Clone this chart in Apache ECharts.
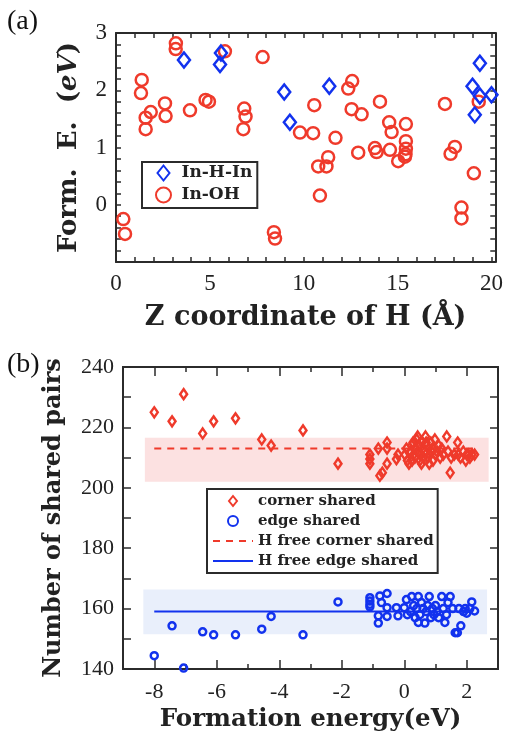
<!DOCTYPE html>
<html lang="en">
<head>
    <meta charset="UTF-8">
    <title>Formation energy / shared pairs</title>
    <script src="https://cdn.jsdelivr.net/npm/echarts@6/dist/echarts.min.js"></script>
    <style>
        html, body { margin: 0; padding: 0; background: #fff; }
        #main { width: 506px; height: 733px; }
    </style>
</head>
<body>
<div id="main"></div>
<script>
    // (a) Z coordinate of H vs formation energy
    var inHInZ = [3.62, 5.54, 5.59, 8.96, 9.26, 11.36, 18.99, 19.11, 19.38, 19.38, 20.0];
    var inHInE = [2.53, 2.45, 2.65, 1.97, 1.44, 2.07, 2.07, 1.57, 2.47, 1.90, 1.92];

    var inOHZ = [0.39, 0.48, 1.37, 1.33, 1.58, 1.58, 1.85, 2.61, 2.64, 3.19, 3.18, 3.94, 4.77, 4.95,
        5.80, 6.83, 6.90, 6.78, 7.81, 8.41, 8.47, 9.80, 10.56, 10.50, 10.77, 10.86, 11.21, 11.30,
        11.69, 12.37, 12.58, 12.55, 13.08, 12.90, 13.79, 13.88, 14.06, 14.55, 14.68, 14.59, 15.03,
        15.44, 15.44, 15.44, 15.39, 15.42, 17.52, 17.82, 18.05, 18.40, 18.40, 19.06, 19.32];
    var inOHE = [-0.25, -0.51, 2.18, 1.95, 1.52, 1.32, 1.62, 1.77, 1.55, 2.82, 2.72, 1.65, 1.83, 1.80,
        2.68, 1.68, 1.54, 1.32, 2.58, -0.48, -0.59, 1.26, 1.74, 1.25, 0.67, 0.16, 0.67, 0.83,
        1.17, 2.03, 2.16, 1.67, 1.58, 0.91, 0.99, 0.92, 1.80, 1.44, 1.27, 0.96, 0.76,
        1.41, 1.11, 0.98, 0.84, 0.88, 1.76, 0.89, 1.01, -0.05, -0.24, 0.55, 1.80];

    // (b) formation energy vs number of shared pairs
    var cornerE = [-8, -7.43, -7.06, -6.45, -6.1, -5.4, -4.56, -4.26, -3.24, -2.12,
        -1.1, -1.1, -1.1, -0.83, -0.55, -0.55, -0.55, -0.78, -0.7,
        -0.25, -0.2, 0.02, 0.07, 0.1, 0.15, 0.2, 0.24, 0.25, 0.28, 0.3, 0.34, 0.35, 0.4, 0.43, 0.45,
        0.48, 0.5, 0.52, 0.55, 0.56, 0.6, 0.62, 0.66, 0.68, 0.7, 0.72, 0.75, 0.78, 0.8, 0.82, 0.85,
        0.88, 0.9, 0.92, 0.98, 1.0, 1.05, 1.1, 1.15, 1.2, 1.25, 1.36, 1.4, 1.47, 1.5, 1.6, 1.71,
        1.73, 1.8, 1.89, 1.97, 2.0, 2.05, 2.1, 2.16, 2.25];
    var cornerN = [225, 222, 231, 218, 222, 223, 216, 214, 219, 208,
        211, 209.5, 208, 213, 215, 213, 208, 204, 205,
        209.5, 211, 211, 213, 209, 208, 212, 214, 209, 215, 211, 210, 213, 216, 217, 212,
        214, 209, 211, 208, 215, 213, 210, 212, 217, 215, 214, 210, 213, 208, 211, 215,
        212, 213, 209, 216, 211, 212, 214, 210, 213, 211, 217, 212, 205, 210, 211, 215,
        211, 210, 212, 209, 211, 211, 210, 211, 211];

    var edgeE = [-8, -7.43, -7.06, -6.45, -6.1, -5.4, -4.56, -4.26, -3.24, -2.12,
        -1.1, -1.1, -1.1, -1.1, -0.78, -0.55, -0.73, -0.83, -0.83, -0.55, -0.55,
        -0.25, -0.2, 0, 0.07, 0.1, 0.2, 0.24, 0.3, 0.35, 0.4, 0.45, 0.45, 0.5, 0.55, 0.6, 0.66,
        0.7, 0.75, 0.8, 0.85, 0.9, 0.95, 1.0, 1.05, 1.1, 1.2, 1.25, 1.3, 1.35, 1.4, 1.47,
        1.55, 1.63, 1.7, 1.75, 1.81, 1.9, 1.95, 2.0, 2.1, 2.16, 2.25];
    var edgeN = [144.4, 154.3, 140.3, 152.3, 151.3, 151.3, 153.2, 157.4, 151.3, 162.2,
        163.6, 162.5, 161.4, 160.6, 164.2, 165, 162, 157.6, 155.2, 160.3, 157.4,
        160.3, 157.6, 160.3, 163, 158, 159, 164, 161, 157, 160, 164, 155.4, 158, 162, 160, 155.2,
        159, 161, 164, 157, 160, 158, 161, 159, 157, 164, 160, 155.4, 158, 162, 164,
        160, 152, 152, 160, 154.3, 159, 160, 158.5, 160, 162.2, 159.2];

    // H free reference values and their shaded spread
    var hFreeRange = [-8, 2.2];
    var hFreeCorner = 213;
    var hFreeEdge = 159;
    var cornerBand = [-8.3, 2.7, 202, 216.6];
    var edgeBand = [-8.35, 2.65, 151.5, 166.3];
    var evenTicks = [-8, -6, -4, -2, 0, 2];

    function zip(a, b) {
        var out = [];
        for (var i = 0; i < a.length; i++) out.push([a[i], b[i]]);
        return out;
    }

    var RED = '#ef3a2b';
    var BLUE = '#1232ee';
    var AX = '#2b2b2b';
    var SERIF = '"Liberation Serif", "DejaVu Serif", serif';
    var BOLD = '"DejaVu Serif", serif';
    var DIAMOND = 'path://M6,0 L12,7.5 L6,15 L0,7.5 Z';
    var HOLLOW = 'rgba(0,0,0,0)';

    function frameAxis(grid, pos, o) {
        var ax = {
            type: 'value', gridIndex: grid, position: pos,
            min: o.min, max: o.max, interval: o.interval,
            axisLine: { show: true, onZero: false, lineStyle: { color: AX, width: 2 } },
            axisTick: { show: true, inside: true, length: o.tick, lineStyle: { color: AX, width: 1.5 } },
            splitLine: { show: false },
            axisLabel: { show: false }
        };
        if (o.minor) ax.minorTick = { show: true, splitNumber: o.minor, length: o.tick, lineStyle: { color: AX, width: 1.5 } };
        if (o.labels) {
            ax.axisLabel = {
                show: true, interval: 0, color: '#222', fontFamily: SERIF, fontSize: o.fs,
                margin: o.margin, formatter: o.labels
            };
        }
        return ax;
    }

    var labA_x = function (v) { return (Math.abs(v % 5) < 1e-6) ? String(Math.round(v)) : ''; };
    var labA_y = function (v) { var r = Math.round(v); return (Math.abs(v - r) < 1e-6 && r >= 0) ? String(r) : ''; };
    var labB_x = function (v) { return (Math.abs(v % 2) < 1e-6) ? String(Math.round(v)) : ''; };
    var labB_y = function (v) { return String(v); };

    function nameStyle(fs) {
        return { fontFamily: BOLD, fontWeight: 'bold', fontSize: fs, color: '#222' };
    }

    var xa0 = frameAxis(0, 'bottom', { min: 0, max: 20.2, interval: 1, tick: 5, labels: labA_x, fs: 23, margin: 10 });
    xa0.name = 'Z coordinate of H (Å)';
    xa0.nameLocation = 'middle';
    xa0.nameGap = 42;
    xa0.nameTextStyle = nameStyle(27);
    var xa1 = frameAxis(0, 'top', { min: 0, max: 20.2, interval: 1, tick: 5 });

    var ya0 = frameAxis(0, 'left', { min: -1, max: 3, interval: 0.2, tick: 5, labels: labA_y, fs: 23, margin: 9 });
    ya0.name = 'Form.  E.  ({i|eV})';
    ya0.nameLocation = 'middle';
    ya0.nameGap = 34;
    ya0.nameTextStyle = {
        fontFamily: BOLD, fontWeight: 'bold', fontSize: 26, color: '#222',
        rich: { i: { fontFamily: BOLD, fontStyle: 'italic', fontWeight: 'bold', fontSize: 26, color: '#222' } }
    };
    var ya1 = frameAxis(0, 'right', { min: -1, max: 3, interval: 0.2, tick: 5 });

    var xb0 = frameAxis(1, 'bottom', { min: -9, max: 3, interval: 1, tick: 5, labels: labB_x, fs: 22, margin: 12 });
    xb0.name = 'Formation energy(eV)';
    xb0.nameLocation = 'middle';
    xb0.nameGap = 38;
    xb0.nameTextStyle = nameStyle(24.5);
    var xb1 = frameAxis(1, 'top', { min: -9, max: 3, interval: 1, tick: 5 });
    // longer ticks on the labelled (even) values
    var xb2 = frameAxis(1, 'bottom', { min: -9, max: 3, interval: 1, tick: 9 });
    xb2.axisTick.customValues = evenTicks;
    var xb3 = frameAxis(1, 'top', { min: -9, max: 3, interval: 1, tick: 9 });
    xb3.axisTick.customValues = evenTicks;

    var yb0 = frameAxis(1, 'left', { min: 140, max: 240, interval: 20, minor: 2, tick: 8, labels: labB_y, fs: 22, margin: 9 });
    yb0.name = 'Number of shared pairs';
    yb0.nameLocation = 'middle';
    yb0.nameGap = 57;
    yb0.nameTextStyle = nameStyle(24);
    var yb1 = frameAxis(1, 'right', { min: 140, max: 240, interval: 20, minor: 2, tick: 8 });

    var chart = echarts.init(document.getElementById('main'), null, { renderer: 'canvas' });

    var option = {
        backgroundColor: '#fff',
        animation: false,
        grid: [
            { left: 116, top: 33, right: 10, bottom: 471 },
            { left: 123, top: 367, right: 8, bottom: 63 }
        ],
        graphic: [
            { type: 'text', left: 7, top: 8, style: { text: '(a)', font: '28px "Liberation Serif", serif', fill: '#111' } },
            { type: 'text', left: 7, top: 351, style: { text: '(b)', font: '28px "Liberation Serif", serif', fill: '#111' } }
        ],
        xAxis: [xa0, xa1, xb0, xb1, xb2, xb3],
        yAxis: [ya0, ya1, yb0, yb1],
        legend: [
            {
                data: [{ name: 'In-H-In', icon: DIAMOND }, { name: 'In-OH' }],
                orient: 'vertical', left: 142, top: 162,
                padding: [2, 5, 4, 13], itemGap: 4,
                itemWidth: 26, itemHeight: 15, symbolKeepAspect: true,
                borderColor: AX, borderWidth: 2, backgroundColor: '#fff',
                textStyle: { fontFamily: BOLD, fontWeight: 'bold', fontSize: 17, color: '#222', lineHeight: 18 }
            },
            {
                data: [
                    { name: 'corner shared', icon: DIAMOND },
                    { name: 'edge shared' },
                    { name: 'H free corner shared', itemStyle: { opacity: 0 } },
                    { name: 'H free edge shared', itemStyle: { opacity: 0 } }
                ],
                orient: 'vertical', left: 207, top: 489,
                padding: [2, 4, 2, 5], itemGap: 0,
                itemWidth: 40, itemHeight: 10, symbolKeepAspect: true,
                borderColor: AX, borderWidth: 2, backgroundColor: '#fff',
                textStyle: { fontFamily: BOLD, fontWeight: 'bold', fontSize: 15, color: '#222', lineHeight: 20 }
            }
        ],
        series: [
            {
                name: 'In-OH', type: 'scatter', xAxisIndex: 0, yAxisIndex: 0, z: 3,
                symbol: 'circle', symbolSize: 12,
                itemStyle: { color: HOLLOW, borderColor: RED, borderWidth: 2.5, opacity: 1 },
                data: zip(inOHZ, inOHE)
            },
            {
                name: 'In-H-In', type: 'scatter', xAxisIndex: 0, yAxisIndex: 0, z: 4,
                symbol: 'diamond', symbolSize: [12, 15],
                itemStyle: { color: HOLLOW, borderColor: BLUE, borderWidth: 2.5, opacity: 1 },
                data: zip(inHInZ, inHInE)
            },
            {
                name: 'H free corner shared', type: 'line', xAxisIndex: 2, yAxisIndex: 2, z: 1,
                symbol: 'none',
                lineStyle: { color: RED, width: 2, type: [7, 6] },
                itemStyle: { color: RED },
                data: [[hFreeRange[0], hFreeCorner], [hFreeRange[1], hFreeCorner]],
                markArea: {
                    silent: true,
                    itemStyle: { color: 'rgba(250,200,200,0.55)' },
                    data: [[{ xAxis: cornerBand[0], yAxis: cornerBand[2] }, { xAxis: cornerBand[1], yAxis: cornerBand[3] }]]
                }
            },
            {
                name: 'H free edge shared', type: 'line', xAxisIndex: 2, yAxisIndex: 2, z: 1,
                symbol: 'none',
                lineStyle: { color: BLUE, width: 2 },
                itemStyle: { color: BLUE },
                data: [[hFreeRange[0], hFreeEdge], [hFreeRange[1], hFreeEdge]],
                markArea: {
                    silent: true,
                    itemStyle: { color: 'rgba(200,215,245,0.4)' },
                    data: [[{ xAxis: edgeBand[0], yAxis: edgeBand[2] }, { xAxis: edgeBand[1], yAxis: edgeBand[3] }]]
                }
            },
            {
                name: 'corner shared', type: 'scatter', xAxisIndex: 2, yAxisIndex: 2, z: 3,
                symbol: 'diamond', symbolSize: [7, 10],
                itemStyle: { color: HOLLOW, borderColor: RED, borderWidth: 2.5, opacity: 1 },
                data: zip(cornerE, cornerN)
            },
            {
                name: 'edge shared', type: 'scatter', xAxisIndex: 2, yAxisIndex: 2, z: 3,
                symbol: 'circle', symbolSize: 7,
                itemStyle: { color: HOLLOW, borderColor: BLUE, borderWidth: 2.5, opacity: 1 },
                data: zip(edgeE, edgeN)
            }
        ]
    };

    chart.setOption(option);
</script>
</body>
</html>
